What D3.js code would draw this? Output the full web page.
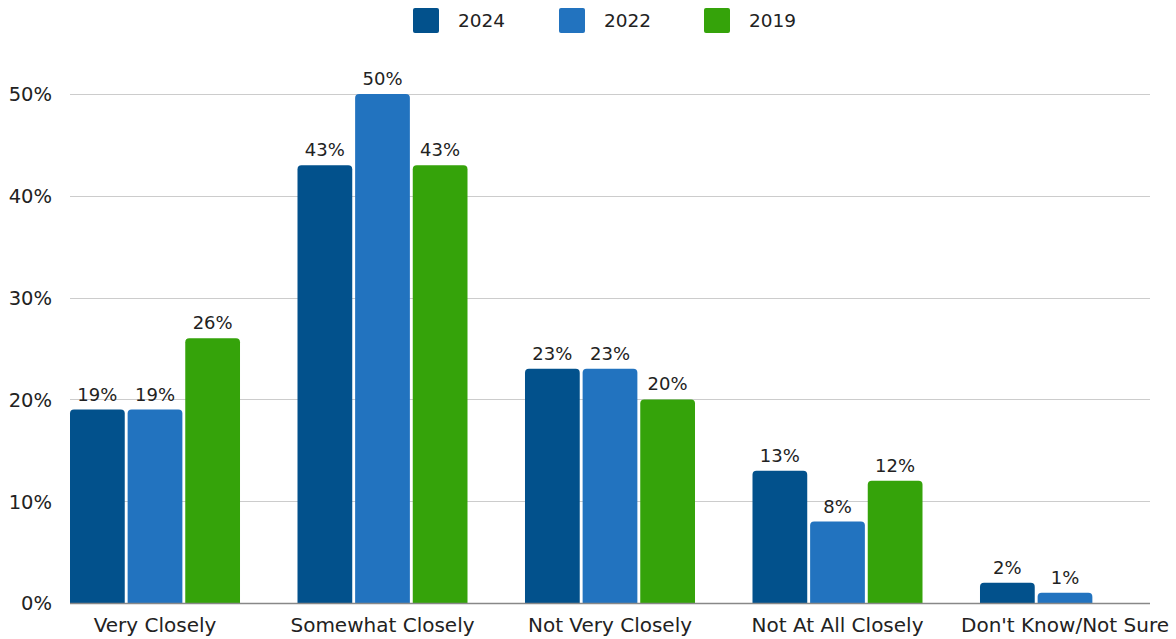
<!DOCTYPE html>
<html>
<head>
<meta charset="utf-8">
<script src="https://cdn.jsdelivr.net/npm/d3@7"></script>
<style>
  html, body { margin: 0; padding: 0; background: #fff; }
  svg { display: block; font-family: "DejaVu Sans", "Noto Sans", sans-serif; }
</style>
</head>
<body>
<svg id="chart" width="1176" height="639"></svg>
<script>
// Survey responses by year
const categories = ["Very Closely", "Somewhat Closely", "Not Very Closely", "Not At All Closely", "Don't Know/Not Sure"];
const years = ["2024", "2022", "2019"];
const values2024 = [19, 43, 23, 13, 2];
const values2022 = [19, 50, 23, 8, 1];
const values2019 = [26, 43, 20, 12, null];
const yTicks = [0, 10, 20, 30, 40, 50];
const colors = ["#02518C", "#2273BF", "#35A30A"];

const seriesValues = [values2024, values2022, values2019];
const FONT = "\"DejaVu Sans\", \"Noto Sans\", sans-serif";

const svg = d3.select("#chart");
const margin = { left: 70, right: 26, top: 94, bottom: 36 };
const W = 1176, H = 639;

const x0 = d3.scaleBand()
  .domain(categories)
  .range([margin.left, W - margin.right])
  .paddingInner(0.2527)
  .paddingOuter(0);

const x1 = d3.scaleBand()
  .domain(years)
  .range([0, x0.bandwidth()])
  .paddingInner(0.05)
  .paddingOuter(0);

const y = d3.scaleLinear()
  .domain([0, 50])
  .range([H - margin.bottom, margin.top]);

const color = d3.scaleOrdinal().domain(years).range(colors);

// gridlines
svg.append("g")
  .selectAll("line")
  .data(yTicks.filter(t => t > 0))
  .join("line")
  .attr("x1", margin.left)
  .attr("x2", W - margin.right)
  .attr("y1", d => Math.round(y(d)) + 0.5)
  .attr("y2", d => Math.round(y(d)) + 0.5)
  .attr("stroke", "#cccccc")
  .attr("stroke-width", 1);

// y-axis labels
const yAxis = d3.axisLeft(y).tickValues(yTicks).tickFormat(d => d + "%").tickSize(0).tickPadding(0);
const gy = svg.append("g")
  .attr("transform", `translate(${margin.left - 18},0)`)
  .call(yAxis);
gy.select(".domain").remove();
gy.selectAll("text")
  .attr("font-size", 19.5)
  .attr("font-family", FONT)
  .attr("fill", "#222")
  .attr("dy", "0.35em");

// rounded-top bar path
function barPath(x, yTop, w, h, r) {
  r = Math.min(r, h, w / 2);
  return `M${x},${yTop + h}V${yTop + r}Q${x},${yTop} ${x + r},${yTop}H${x + w - r}Q${x + w},${yTop} ${x + w},${yTop + r}V${yTop + h}Z`;
}

const rows = [];
categories.forEach((c, i) => {
  years.forEach((yr, j) => {
    const v = seriesValues[j][i];
    if (v != null) rows.push({ cat: c, year: yr, value: v });
  });
});

svg.append("g")
  .selectAll("path")
  .data(rows)
  .join("path")
  .attr("d", d => {
    const bx = x0(d.cat) + x1(d.year);
    const top = y(d.value);
    return barPath(bx, top, x1.bandwidth(), y(0) - top, 4);
  })
  .attr("fill", d => color(d.year));

// value labels
svg.append("g")
  .selectAll("text")
  .data(rows)
  .join("text")
  .attr("x", d => x0(d.cat) + x1(d.year) + x1.bandwidth() / 2)
  .attr("y", d => y(d.value) - 9)
  .attr("text-anchor", "middle")
  .attr("font-size", 18)
  .attr("fill", "#222")
  .text(d => d.value + "%");

// baseline
svg.append("line")
  .attr("x1", margin.left)
  .attr("x2", W - margin.right)
  .attr("y1", Math.round(y(0)) + 0.5)
  .attr("y2", Math.round(y(0)) + 0.5)
  .attr("stroke", "#888888")
  .attr("stroke-width", 1.5);

// category labels
const xAxis = d3.axisBottom(x0).tickSize(0).tickPadding(0);
const gx = svg.append("g")
  .attr("transform", `translate(0,${y(0)})`)
  .call(xAxis);
gx.select(".domain").remove();
gx.selectAll("text")
  .attr("font-size", 20)
  .attr("font-family", FONT)
  .attr("fill", "#222")
  .attr("dy", null)
  .attr("y", 29);

// legend
const legendX = [413, 559, 704];
const legend = svg.append("g");
years.forEach((yr, i) => {
  legend.append("rect")
    .attr("x", legendX[i])
    .attr("y", 8)
    .attr("width", 26)
    .attr("height", 25)
    .attr("rx", 2)
    .attr("fill", color(yr));
  legend.append("text")
    .attr("x", legendX[i] + 45)
    .attr("y", 27)
    .attr("font-size", 18.5)
    .attr("fill", "#222")
    .text(yr);
});
</script>
</body>
</html>
